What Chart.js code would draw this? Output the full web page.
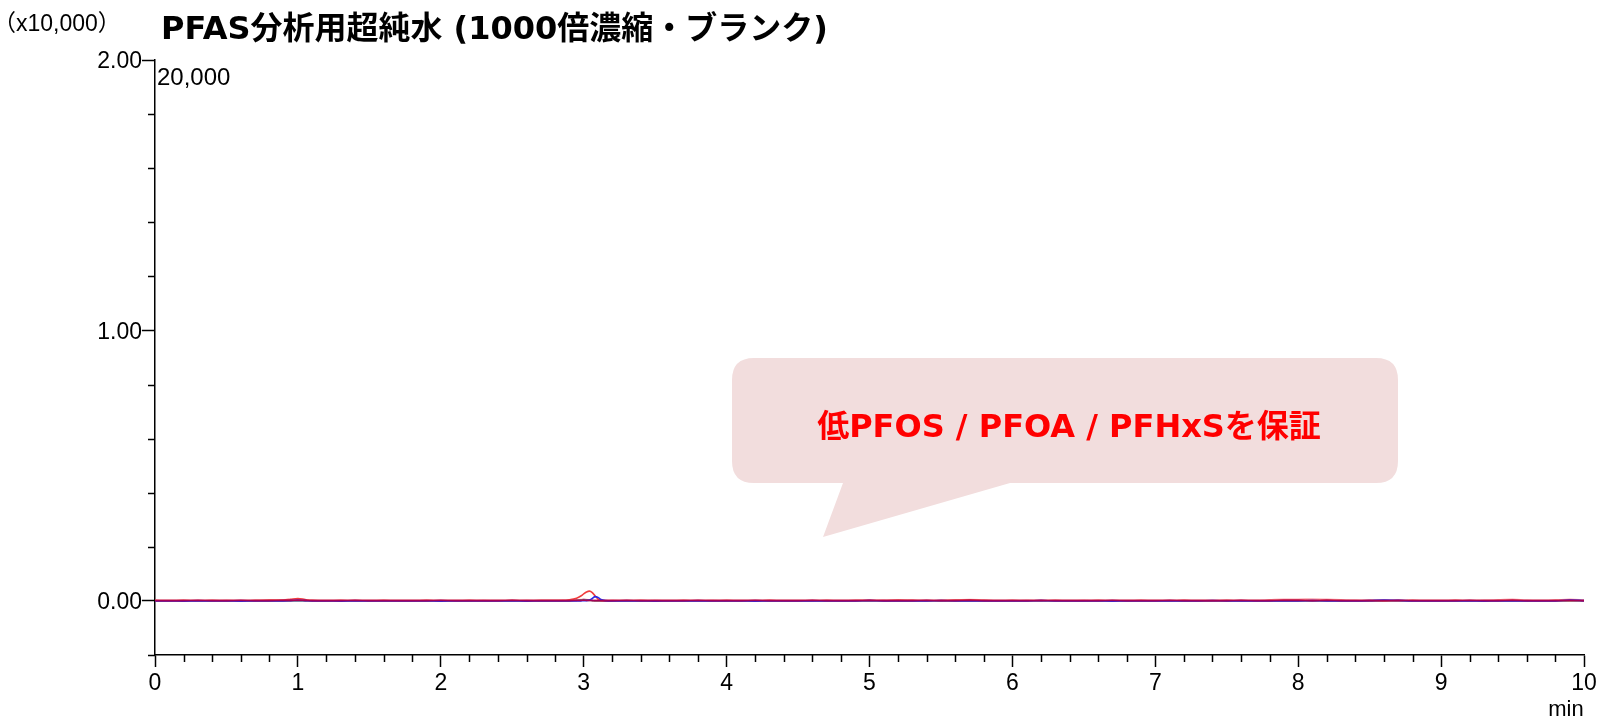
<!DOCTYPE html>
<html>
<head>
<meta charset="utf-8">
<script src="https://cdn.jsdelivr.net/npm/chart.js@4/dist/chart.umd.min.js"></script>
<style>
html,body{margin:0;padding:0;background:#fff;}
#wrap{width:1600px;height:720px;position:relative;}
</style>
</head>
<body>
<div id="wrap"><canvas id="c" width="1600" height="720"></canvas></div>
<script>
// ---- data (intensity in units of x10,000) ----
const times = [
0,0.1,0.2,0.3,0.4,0.5,0.6,0.7,0.8,0.9,
0.95,1.0,1.05,1.1,1.2,1.3,1.4,1.5,1.6,1.7,
1.8,1.9,2.0,2.1,2.2,2.3,2.4,2.5,2.6,2.7,
2.8,2.85,2.9,2.95,2.98,3.0,3.02,3.04,3.06,3.08,
3.1,3.12,3.15,3.2,3.3,3.4,3.5,3.6,3.7,3.8,
3.9,4.0,4.1,4.2,4.3,4.4,4.5,4.6,4.7,4.8,
4.9,5.0,5.1,5.2,5.3,5.4,5.5,5.6,5.7,5.8,
5.9,6.0,6.1,6.2,6.3,6.4,6.5,6.6,6.7,6.8,
6.9,7.0,7.1,7.2,7.3,7.4,7.5,7.6,7.7,7.8,
7.9,8.0,8.1,8.2,8.3,8.4,8.5,8.6,8.7,8.8,
8.9,9.0,9.1,9.2,9.3,9.4,9.5,9.6,9.7,9.8,
9.9,10.0
];
const pfos = [
0.002,0.001,0.002,0.001,0.002,0.001,0.001,0.002,0.003,0.003,
0.006,0.009,0.005,0.002,0.001,0.002,0.001,0.001,0.002,0.001,
0.001,0.002,0.001,0.001,0.002,0.001,0.001,0.002,0.001,0.002,
0.002,0.002,0.004,0.010,0.018,0.026,0.033,0.036,0.031,0.018,
0.007,0.002,0.001,0.001,0.001,0.002,0.001,0.001,0.002,0.001,
0.001,0.002,0.001,0.001,0.002,0.001,0.001,0.001,0.002,0.001,
0.002,0.002,0.001,0.003,0.002,0.001,0.002,0.003,0.004,0.002,
0.001,0.002,0.001,0.001,0.002,0.001,0.001,0.002,0.001,0.001,
0.002,0.001,0.001,0.002,0.001,0.001,0.002,0.001,0.001,0.002,
0.003,0.003,0.002,0.003,0.002,0.001,0.002,0.001,0.001,0.002,
0.001,0.001,0.002,0.001,0.001,0.002,0.003,0.001,0.001,0.002,
0.002,0.001
];
const pfoa = [
0,0,-0.001,0,0,0,-0.001,0,0,0,
0.001,0.002,0.001,0,0,-0.001,0,0,0,0,
0,0,-0.001,0,0,0,0,0,-0.001,0,
0,0,0,0,0,0.001,0.001,0.003,0.009,0.016,
0.013,0.005,0.001,0,0,0,-0.001,0,0,0,
0,0,0,-0.001,0,0,0,0,0,0,
0,0.001,0,0,0,0,0.001,0,0,0,
0,0,0,0.001,0,0,0,0,-0.001,0,
0,0,0,0,0,0.001,0,0,0,0,
0,0,0.001,0,0,0,0.001,0.003,0.002,0,
0,0,0,0,-0.001,0,0,0,0,0,
0.003,0.001
];
const pfhxs = [
0.001,0.001,0.001,0.002,0.001,0.001,0.002,0.001,0.001,0.002,
0.002,0.003,0.002,0.001,0.001,0.001,0.002,0.001,0.001,0.001,
0.001,0.001,0.002,0.001,0.001,0.001,0.001,0.002,0.001,0.001,
0.001,0.001,0.001,0.002,0.002,0.003,0.002,0.002,0.001,0.001,
0.001,0.001,0.001,0.001,0.002,0.001,0.001,0.001,0.001,0.002,
0.001,0.001,0.001,0.002,0.001,0.001,0.001,0.002,0.001,0.001,
0.001,0.002,0.001,0.001,0.001,0.002,0.001,0.001,0.002,0.001,
0.001,0.001,0.001,0.002,0.001,0.001,0.001,0.001,0.002,0.001,
0.001,0.001,0.002,0.001,0.001,0.001,0.001,0.002,0.001,0.001,
0.002,0.002,0.001,0.002,0.001,0.001,0.001,0.001,0.002,0.001,
0.001,0.001,0.001,0.002,0.001,0.001,0.002,0.001,0.001,0.001,
0.002,0.001
];
const other = [
0.002,0.002,0.003,0.002,0.002,0.003,0.002,0.002,0.003,0.004,
0.005,0.006,0.004,0.003,0.002,0.002,0.003,0.002,0.002,0.002,
0.002,0.003,0.002,0.002,0.002,0.003,0.002,0.002,0.003,0.002,
0.002,0.003,0.003,0.004,0.005,0.006,0.005,0.004,0.003,0.002,
0.002,0.002,0.002,0.003,0.002,0.002,0.003,0.002,0.002,0.002,
0.003,0.002,0.002,0.002,0.003,0.002,0.002,0.003,0.002,0.002,
0.002,0.003,0.004,0.003,0.004,0.003,0.002,0.003,0.005,0.004,
0.002,0.002,0.003,0.002,0.002,0.002,0.003,0.002,0.002,0.002,
0.002,0.002,0.002,0.003,0.002,0.002,0.002,0.003,0.002,0.004,
0.006,0.006,0.007,0.006,0.004,0.003,0.002,0.003,0.002,0.002,
0.002,0.002,0.003,0.002,0.003,0.004,0.006,0.003,0.002,0.003,
0.006,0.003
];
const istd = [
0,0,0,0,0,0,0,0,0,0,
0,0,0,0,0,0,0,0,0,0,
0,0,0,0,0,0,0,0,0,0,
0,0,0,0.002,0.004,0.005,0.004,0.002,0.001,0,
0,0,0,0,0,0,0,0,0,0,
0,0,0,0,0,0,0,0,0,0,
0,0,0,0,0,0,0,0,0,0,
0,0,0,0,0,0,0,0,0,0,
0,0,0,0,0,0,0,0,0,0,
0,0,0,0,0,0,0,0,0,0,
0,0,0,0,0,0,0,0,0,0,
0,0
];
const xMajorTicks = [0,1,2,3,4,5,6,7,8,9,10];
const yMajorTicks = [0,1,2];
const titleText = 'PFAS分析用超純水 (1000倍濃縮・ブランク)';
const unitText = '（x10,000）';
const fullScaleText = '20,000';
const xUnitText = 'min';
const calloutText = '低PFOS / PFOA / PFHxSを保証';

// ---- chart ----
const tickFont = "'Liberation Sans', Arial, sans-serif";
function pts(arr){ return times.map((t,i)=>({x:t,y:arr[i]})); }
function ds(label, arr, color, order){
  return {label, data: pts(arr), borderColor: color, backgroundColor: color,
    borderWidth: 1.6, pointRadius: 0, cubicInterpolationMode: 'monotone', fill:false, order};
}

const decor = {
  id: 'decor',
  afterDraw(chart){
    const ctx = chart.ctx;
    const xs = chart.scales.x, ys = chart.scales.y;
    const a = chart.chartArea;
    ctx.save();
    // minor ticks
    ctx.strokeStyle = '#000'; ctx.lineWidth = 1.5;
    ctx.beginPath();
    for (let k = 0; k <= 50; k++) {
      if (k % 5 === 0) continue;
      const px = Math.round(xs.getPixelForValue(k / 5)) + 0.5;
      ctx.moveTo(px, a.bottom); ctx.lineTo(px, a.bottom + 7);
    }
    for (let k = -1; k <= 10; k++) {
      if (k % 5 === 0) continue;
      const py = Math.round(ys.getPixelForValue(k / 5)) + 0.5;
      ctx.moveTo(a.left - 7, py); ctx.lineTo(a.left, py);
    }
    ctx.stroke();

    // texts
    ctx.fillStyle = '#000';
    ctx.textBaseline = 'middle';
    ctx.textAlign = 'left';
    ctx.font = "23px 'Liberation Sans', 'Noto Sans CJK JP', sans-serif";
    ctx.fillText(unitText, -7, 25);
    ctx.font = "24px " + tickFont;
    ctx.fillText(fullScaleText, 157, 78);
    ctx.textBaseline = 'alphabetic';
    ctx.font = "bold 32px 'DejaVu Sans', 'Noto Sans CJK JP', sans-serif";
    ctx.fillText(titleText, 161, 39);
    ctx.textAlign = 'center';
    ctx.textBaseline = 'middle';
    ctx.font = "22px " + tickFont;
    ctx.fillText(xUnitText, 1566, 710);

    // callout bubble
    const bx = 732, by = 358, bw = 666, bh = 125, r = 22;
    ctx.fillStyle = 'rgb(242,221,221)';
    ctx.beginPath();
    ctx.moveTo(bx + r, by);
    ctx.lineTo(bx + bw - r, by);
    ctx.quadraticCurveTo(bx + bw, by, bx + bw, by + r);
    ctx.lineTo(bx + bw, by + bh - r);
    ctx.quadraticCurveTo(bx + bw, by + bh, bx + bw - r, by + bh);
    ctx.lineTo(1010, by + bh);
    ctx.lineTo(823, 537);
    ctx.lineTo(843, by + bh);
    ctx.lineTo(bx + r, by + bh);
    ctx.quadraticCurveTo(bx, by + bh, bx, by + bh - r);
    ctx.lineTo(bx, by + r);
    ctx.quadraticCurveTo(bx, by, bx + r, by);
    ctx.closePath();
    ctx.fill();
    ctx.fillStyle = '#ff0000';
    ctx.font = "bold 32px 'DejaVu Sans', 'Noto Sans CJK JP', sans-serif";
    ctx.textAlign = 'center';
    ctx.textBaseline = 'alphabetic';
    ctx.fillText(calloutText, 1069, 437);
    ctx.restore();
  }
};

new Chart(document.getElementById('c'), {
  type: 'line',
  data: {
    datasets: [
      ds('PFHxS', pfhxs, 'rgb(165,0,85)', 1),
      ds('PFOA', pfoa, 'rgb(40,40,230)', 2),
      ds('PFOS', pfos, 'rgb(240,60,60)', 3),
      ds('IS', istd, 'rgb(120,130,110)', 4),
      ds('other', other, 'rgb(250,165,175)', 5)
    ]
  },
  options: {
    responsive: false,
    animation: false,
    devicePixelRatio: 1,
    layout: { padding: { left: 0, right: 16, top: 60, bottom: 0 } },
    plugins: { legend: { display: false }, tooltip: { enabled: false }, title: { display: false } },
    scales: {
      x: {
        type: 'linear', position: 'bottom', min: 0, max: 10,
        afterBuildTicks(s){ s.ticks = xMajorTicks.map(v => ({value: v})); },
        afterFit(s){ s.height = 65; },
        ticks: { color: '#000', font: { family: tickFont, size: 23 }, padding: 3, maxRotation: 0, autoSkip: false,
          callback: v => String(v) },
        grid: { drawOnChartArea: false, drawTicks: true, tickLength: 12, tickColor: '#000', tickWidth: 1.5 },
        border: { display: true, color: '#000', width: 1.5 }
      },
      y: {
        type: 'linear', position: 'left', min: -0.2, max: 2.0,
        afterBuildTicks(s){ s.ticks = yMajorTicks.map(v => ({value: v})); },
        afterFit(s){ s.width = 155; },
        ticks: { color: '#000', font: { family: tickFont, size: 23 }, padding: 0, labelOffset: 2,
          callback: v => Number(v).toFixed(2) },
        grid: { drawOnChartArea: false, drawTicks: true, tickLength: 13, tickColor: '#000', tickWidth: 1.5 },
        border: { display: true, color: '#000', width: 1.5 }
      }
    }
  },
  plugins: [decor]
});
</script>
</body>
</html>
